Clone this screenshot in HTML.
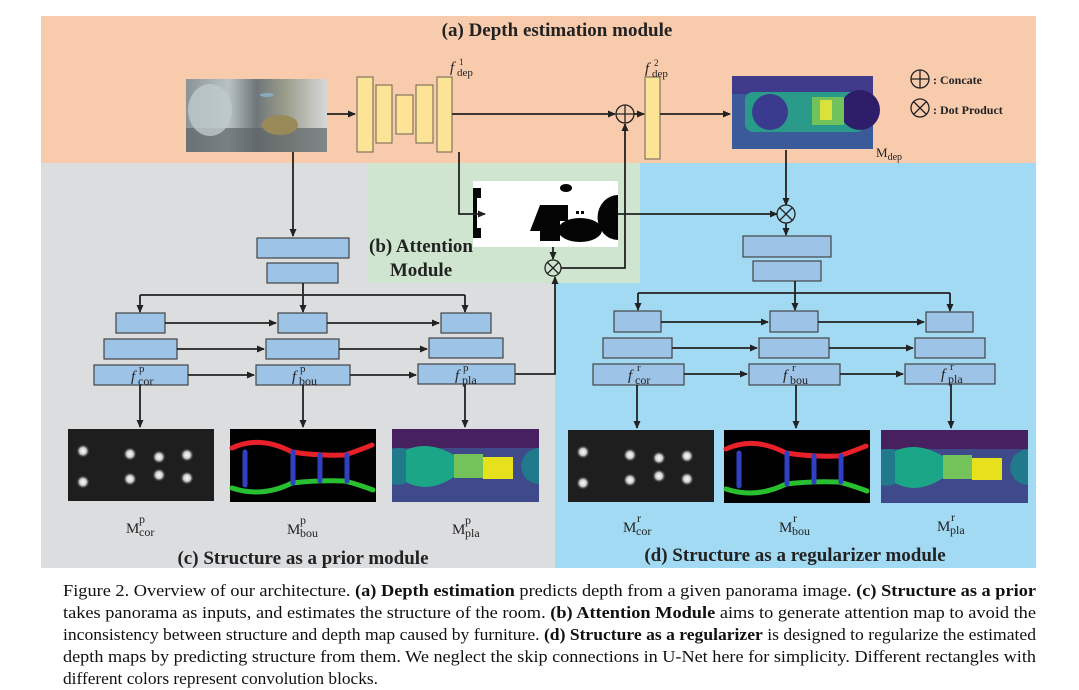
<!DOCTYPE html>
<html><head><meta charset="utf-8"><style>
html,body{margin:0;padding:0;background:#fff;}
svg{display:block;}
.t{font-family:"Liberation Serif",serif;}
</style></head><body>
<svg width="1079" height="690" viewBox="0 0 1079 690" xmlns="http://www.w3.org/2000/svg" class="t">
<defs>
<marker id="ar" markerWidth="8" markerHeight="8" refX="7" refY="4" orient="auto" markerUnits="userSpaceOnUse"><path d="M0,0.5 L8,4 L0,7.5 Z" fill="#222"/></marker>
<linearGradient id="pano" x1="0" x2="1"><stop offset="0" stop-color="#8a9396"/><stop offset="0.3" stop-color="#b8c2c4"/><stop offset="0.5" stop-color="#6f767a"/><stop offset="0.7" stop-color="#9a9c8a"/><stop offset="1" stop-color="#d6d8d8"/></linearGradient>
<radialGradient id="dot"><stop offset="0" stop-color="#fff"/><stop offset="0.5" stop-color="#ccc"/><stop offset="1" stop-color="#222" stop-opacity="0"/></radialGradient>
</defs>
<rect x="41" y="16" width="995" height="147" fill="#f8cbad"/>
<rect x="41" y="163" width="514" height="405" fill="#dcdddf"/>
<rect x="555" y="163" width="481" height="405" fill="#a3daf3"/>
<rect x="367" y="163" width="273" height="120" fill="#cfe5cf"/>
<text x="557" y="36" font-size="19" font-weight="bold" text-anchor="middle" fill="#222">(a) Depth estimation module</text>

<rect x="186" y="79" width="141" height="73" fill="url(#pano)"/>
<rect x="186" y="128" width="141" height="24" fill="#5d6468" opacity="0.7"/>
<ellipse cx="280" cy="125" rx="18" ry="10" fill="#9a8a5a"/>
<ellipse cx="210" cy="110" rx="22" ry="26" fill="#bfcacc" opacity="0.8"/>
<ellipse cx="267" cy="95" rx="7" ry="2" fill="#8ab"/>
<g fill="#fce396" stroke="#6a6252" stroke-width="1">
<rect x="357" y="77" width="16" height="75"/><rect x="376" y="85" width="16" height="58"/><rect x="396" y="95" width="17" height="39"/><rect x="416" y="85" width="17" height="58"/><rect x="437" y="77" width="15" height="75"/><rect x="645" y="77" width="15" height="82"/>
</g>
<g fill="#222">
<text x="450" y="72" font-size="15" font-style="italic">f</text><text x="457" y="76" font-size="11">dep</text><text x="459" y="65" font-size="9">1</text>
<text x="645" y="73" font-size="15" font-style="italic">f</text><text x="652" y="77" font-size="11">dep</text><text x="654" y="66" font-size="9">2</text>
</g>

<rect x="732" y="76" width="141" height="73" fill="#3a5a9a"/>
<rect x="732" y="76" width="141" height="18" fill="#3f3a8a"/>
<rect x="745" y="92" width="120" height="40" rx="8" fill="#2a9a8a"/>
<circle cx="770" cy="112" r="18" fill="#3a3a8e"/>
<circle cx="860" cy="110" r="20" fill="#2e1e6a"/>
<rect x="812" y="97" width="32" height="28" fill="#6fc35a"/>
<rect x="820" y="100" width="12" height="20" fill="#d8e23a"/>
<text x="876" y="157" font-size="13" fill="#222">M<tspan font-size="10" dy="3">dep</tspan></text>

<g stroke="#222" stroke-width="1.3" fill="none">
<circle cx="920" cy="79" r="9"/><path d="M911,79h18M920,70v18"/>
<circle cx="920" cy="108" r="9"/><path d="M914,102l12,12M926,102l-12,12"/>
</g>
<text x="933" y="84" font-size="12" font-weight="bold" fill="#222">: Concate</text>
<text x="933" y="114" font-size="12" font-weight="bold" fill="#222">: Dot Product</text>

<rect x="473" y="181" width="145" height="66" fill="#fff"/>
<g fill="#050505">
<path d="M473,188 h8 v10 h-4 v30 h4 v10 h-8 z"/>
<ellipse cx="566" cy="188" rx="6" ry="4"/>
<path d="M540,205 h28 v16 h-8 v20 h-20 v-10 h-10 z"/>
<ellipse cx="580" cy="230" rx="22" ry="12"/>
<path d="M618,195 a20,22 0 1 0 0,45 z" />
<rect x="576" y="211" width="3" height="3"/><rect x="581" y="211" width="3" height="3"/>
</g>

<g stroke="#222" stroke-width="1.8" fill="none">
<path d="M327,114 H355" marker-end="url(#ar)"/>
<path d="M452,114 H615" marker-end="url(#ar)"/>
<path d="M634,114 H644" marker-end="url(#ar)"/>
<path d="M660,114 H730" marker-end="url(#ar)"/>
<path d="M459,152 V214 H485" marker-end="url(#ar)"/>
<path d="M553,247 V259" marker-end="url(#ar)"/>
<path d="M561,268 H625 V124" marker-end="url(#ar)"/>
<path d="M618,214 H777" marker-end="url(#ar)"/>
<path d="M786,150 V205" marker-end="url(#ar)"/>
<path d="M786,223 V235" marker-end="url(#ar)"/>
<path d="M293,152 V236" marker-end="url(#ar)"/>
<path d="M515,374 H555 V277" marker-end="url(#ar)"/>
</g>
<g stroke="#222" stroke-width="1.3" fill="none">
<circle cx="625" cy="114" r="9"/><path d="M616,114h18M625,105v18"/>
<circle cx="553" cy="268" r="8"/><path d="M547.5,262.5l11,11M558.5,262.5l-11,11"/>
<circle cx="786" cy="214" r="9"/><path d="M780,208l12,12M792,208l-12,12"/>
</g>
<text x="421" y="252" font-size="19" font-weight="bold" text-anchor="middle" fill="#222">(b) Attention</text>
<text x="421" y="276" font-size="19" font-weight="bold" text-anchor="middle" fill="#222">Module</text>

<g fill="#9dc3e6" stroke="#444" stroke-width="1.2">
<rect x="257" y="238" width="92" height="20"/><rect x="267" y="263" width="71" height="20"/>
<rect x="116" y="313" width="49" height="20"/><rect x="278" y="313" width="49" height="20"/><rect x="441" y="313" width="50" height="20"/>
<rect x="104" y="339" width="73" height="20"/><rect x="266" y="339" width="73" height="20"/><rect x="429" y="338" width="74" height="20"/>
<rect x="94" y="365" width="94" height="20"/><rect x="256" y="365" width="94" height="20"/><rect x="418" y="364" width="97" height="20"/>
</g>
<g fill="#9dc3e6" stroke="#444" stroke-width="1.2">
<rect x="743" y="236" width="88" height="21"/><rect x="753" y="261" width="68" height="20"/>
<rect x="614" y="311" width="47" height="21"/><rect x="770" y="311" width="48" height="21"/><rect x="926" y="312" width="47" height="20"/>
<rect x="603" y="338" width="69" height="20"/><rect x="759" y="338" width="70" height="20"/><rect x="915" y="338" width="70" height="20"/>
<rect x="593" y="364" width="91" height="21"/><rect x="749" y="364" width="91" height="21"/><rect x="905" y="364" width="90" height="20"/>
</g>
<g stroke="#222" stroke-width="1.8" fill="none">
<path d="M303,283 V294 M140,295 H465"/>
<path d="M140,295 V312" marker-end="url(#ar)"/><path d="M303,295 V312" marker-end="url(#ar)"/><path d="M465,295 V312" marker-end="url(#ar)"/>
<path d="M165,323 H276" marker-end="url(#ar)"/><path d="M327,323 H439" marker-end="url(#ar)"/>
<path d="M177,349 H264" marker-end="url(#ar)"/><path d="M339,349 H427" marker-end="url(#ar)"/>
<path d="M188,375 H254" marker-end="url(#ar)"/><path d="M350,375 H416" marker-end="url(#ar)"/>
<path d="M140,385 V427" marker-end="url(#ar)"/><path d="M303,385 V427" marker-end="url(#ar)"/><path d="M465,384 V427" marker-end="url(#ar)"/>
<path d="M795,281 V293 M638,293 H950"/>
<path d="M638,293 V310" marker-end="url(#ar)"/><path d="M795,293 V310" marker-end="url(#ar)"/><path d="M950,293 V311" marker-end="url(#ar)"/>
<path d="M661,322 H768" marker-end="url(#ar)"/><path d="M818,322 H924" marker-end="url(#ar)"/>
<path d="M672,348 H757" marker-end="url(#ar)"/><path d="M829,348 H913" marker-end="url(#ar)"/>
<path d="M684,374 H747" marker-end="url(#ar)"/><path d="M840,374 H903" marker-end="url(#ar)"/>
<path d="M637,385 V428" marker-end="url(#ar)"/><path d="M796,385 V428" marker-end="url(#ar)"/><path d="M951,384 V428" marker-end="url(#ar)"/>
</g>
<g fill="#222">
<text x="131" y="381" font-size="15" font-style="italic">f</text><text x="138" y="385" font-size="12">cor</text><text x="139" y="372" font-size="11">p</text>
<text x="292" y="381" font-size="15" font-style="italic">f</text><text x="299" y="385" font-size="12">bou</text><text x="300" y="372" font-size="11">p</text>
<text x="455" y="380" font-size="15" font-style="italic">f</text><text x="462" y="384" font-size="12">pla</text><text x="463" y="371" font-size="11">p</text>
<text x="628" y="380" font-size="15" font-style="italic">f</text><text x="635" y="384" font-size="12">cor</text><text x="637" y="371" font-size="11">r</text>
<text x="783" y="380" font-size="15" font-style="italic">f</text><text x="790" y="384" font-size="12">bou</text><text x="792" y="371" font-size="11">r</text>
<text x="941" y="379" font-size="15" font-style="italic">f</text><text x="948" y="383" font-size="12">pla</text><text x="950" y="370" font-size="11">r</text>
</g>

<g id="cor">
<rect x="68" y="429" width="146" height="72" fill="#1e1e1e"/>
<g fill="url(#dot)"><circle cx="83" cy="451" r="7"/><circle cx="83" cy="482" r="7"/><circle cx="130" cy="454" r="7"/><circle cx="130" cy="479" r="7"/><circle cx="159" cy="457" r="7"/><circle cx="159" cy="475" r="7"/><circle cx="187" cy="455" r="7"/><circle cx="187" cy="478" r="7"/></g>
</g>
<g id="bou">
<rect x="230" y="429" width="146" height="73" fill="#000"/>
<g fill="none" stroke-width="5" stroke-linecap="round">
<path d="M232,448 Q260,435 292,452 Q318,456 345,455 Q360,450 372,445" stroke="#e8202a"/>
<path d="M232,488 Q262,498 292,483 Q318,480 345,481 Q360,485 373,490" stroke="#28c030"/>
<path d="M245,452 V485 M293,452 V483 M320,455 V481 M347,455 V481" stroke="#3040c0"/>
</g>
</g>
<g id="pla">
<rect x="392" y="429" width="147" height="73" fill="#3e4a8a"/>
<rect x="392" y="429" width="147" height="19" fill="#47215f"/>
<path d="M392,449 Q400,447 406,449 V483 Q400,486 392,484 Z" fill="#21798c"/>
<path d="M539,448 Q523,450 521,466 Q523,483 539,484 Z" fill="#21798c"/>
<path d="M406,450 Q428,440 454,455 V477 Q428,494 406,482 Z" fill="#1aa687"/>
<rect x="454" y="454" width="29" height="24" fill="#73c25a"/>
<rect x="483" y="457" width="30" height="22" fill="#e6e11c"/>
</g>
<use href="#cor" transform="translate(500,1)"/>
<use href="#bou" transform="translate(494,1)"/>
<use href="#pla" transform="translate(489,1)"/>

<g fill="#222">
<text x="126" y="533" font-size="15">M</text><text x="139" y="536" font-size="12">cor</text><text x="139" y="523" font-size="12">p</text>
<text x="287" y="534" font-size="15">M</text><text x="300" y="537" font-size="12">bou</text><text x="300" y="524" font-size="12">p</text>
<text x="452" y="534" font-size="15">M</text><text x="465" y="537" font-size="12">pla</text><text x="465" y="524" font-size="12">p</text>
<text x="623" y="532" font-size="15">M</text><text x="636" y="535" font-size="12">cor</text><text x="637" y="522" font-size="12">r</text>
<text x="779" y="532" font-size="15">M</text><text x="792" y="535" font-size="12">bou</text><text x="793" y="522" font-size="12">r</text>
<text x="937" y="531" font-size="15">M</text><text x="950" y="534" font-size="12">pla</text><text x="951" y="521" font-size="12">r</text>
</g>
<text x="303" y="564" font-size="19" font-weight="bold" text-anchor="middle" fill="#222">(c) Structure as a prior module</text>
<text x="795" y="561" font-size="19" font-weight="bold" text-anchor="middle" fill="#222">(d) Structure as a regularizer module</text>

<g font-size="17" fill="#111">
<text x="63" y="596" textLength="973" lengthAdjust="spacingAndGlyphs">Figure 2.  Overview of our architecture.  <tspan font-weight="bold">(a) Depth estimation</tspan> predicts depth from a given panorama image.  <tspan font-weight="bold">(c) Structure as a prior</tspan></text>
<text x="63" y="618" textLength="973" lengthAdjust="spacingAndGlyphs">takes panorama as inputs, and estimates the structure of the room.  <tspan font-weight="bold">(b) Attention Module</tspan> aims to generate attention map to avoid the</text>
<text x="63" y="640" textLength="973" lengthAdjust="spacingAndGlyphs">inconsistency between structure and depth map caused by furniture. <tspan font-weight="bold">(d) Structure as a regularizer</tspan> is designed to regularize the estimated</text>
<text x="63" y="662" textLength="973" lengthAdjust="spacingAndGlyphs">depth maps by predicting structure from them.  We neglect the skip connections in U-Net here for simplicity.  Different rectangles with</text>
<text x="63" y="684" textLength="315" lengthAdjust="spacingAndGlyphs">different colors represent convolution blocks.</text>
</g>
</svg>
</body></html>
